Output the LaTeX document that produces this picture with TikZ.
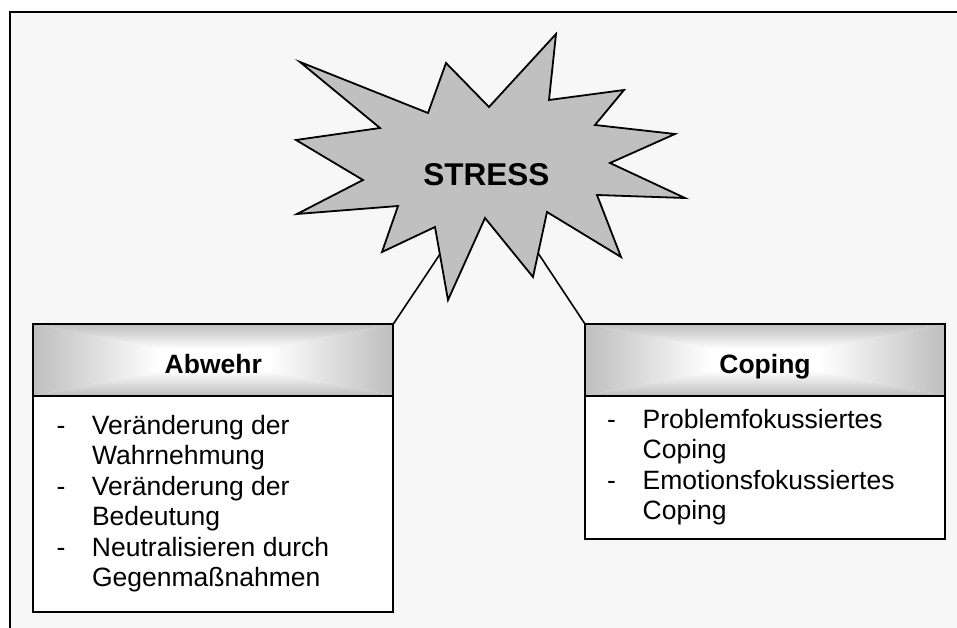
\documentclass[tikz,border=0pt]{standalone}
\usepackage{fontspec}
\setmainfont{Liberation Sans}
\usetikzlibrary{positioning}
\definecolor{bgcol}{HTML}{F7F7F7}
\definecolor{stargray}{HTML}{C0C0C0}
\definecolor{headgray}{HTML}{BEBEBE}
% rectangular glow for the headers, built from four triangles
\pgfdeclareverticalshading{glowup}{100bp}{color(0bp)=(white); color(40bp)=(white); color(75bp)=(headgray); color(100bp)=(headgray)}
\pgfdeclareverticalshading{glowdown}{100bp}{color(0bp)=(headgray); color(25bp)=(headgray); color(60bp)=(white); color(100bp)=(white)}
\pgfdeclarehorizontalshading{glowright}{100bp}{color(0bp)=(white); color(40bp)=(white); color(75bp)=(headgray); color(100bp)=(headgray)}
\pgfdeclarehorizontalshading{glowleft}{100bp}{color(0bp)=(headgray); color(25bp)=(headgray); color(60bp)=(white); color(100bp)=(white)}
\newcommand{\dashitem}{\makebox[35.5pt][l]{-}}
\newcommand{\contitem}{\hspace*{35.5pt}}
\begin{document}
\begin{tikzpicture}[x=1pt,y=-1pt,
  head/.style={rectangle,draw,line width=1.8,outer sep=0,inner sep=0,
    minimum width=360,minimum height=71.7,text height=28,text depth=0,
    font=\fontsize{26.5}{30.5}\selectfont\bfseries,
    path picture={
      \coordinate (gc) at (path picture bounding box.center);
      \coordinate (gnw) at (path picture bounding box.north west);
      \coordinate (gne) at (path picture bounding box.north east);
      \coordinate (gsw) at (path picture bounding box.south west);
      \coordinate (gse) at (path picture bounding box.south east);
      \shade[shading=glowup] (gc) -- (gnw) -- (gne) -- cycle;
      \shade[shading=glowdown] (gc) -- (gsw) -- (gse) -- cycle;
      \shade[shading=glowleft] (gc) -- (gnw) -- (gsw) -- cycle;
      \shade[shading=glowright] (gc) -- (gne) -- (gse) -- cycle;}},
  body/.style={rectangle,draw,line width=1.8,fill=white,outer sep=0,inner sep=0,minimum width=360},
  items/.style={align=left,inner sep=0,font=\fontsize{26.5}{30.5}\selectfont},
  link/.style={line width=1.6}]
\useasboundingbox (0,0) rectangle (957,628);

% Frame
\fill[bgcol] (10,12) rectangle (957,628);
\draw[line width=2] (10,628) -- (10,12) -- (957,12);

% Boxes
\node[head,anchor=north west] (abwehr) at (33.3,324) {Abwehr};
\node[body,minimum height=216,below=0pt of abwehr] (abwehrbody) {};
\node[items,anchor=west] (abwehrlist) at ([xshift=23]abwehrbody.west)
  {\dashitem Veränderung der\\\contitem Wahrnehmung\\\dashitem Veränderung der\\\contitem Bedeutung\\\dashitem Neutralisieren durch\\\contitem Gegenmaßnahmen};

\node[head,anchor=north west] (coping) at (585,324) {Coping};
\node[body,minimum height=143.3,below=0pt of coping] (copingbody) {};
\node[items,anchor=west] (copinglist) at ([xshift=22]copingbody.west)
  {\dashitem Problemfokussiertes\\\contitem Coping\\\dashitem Emotionsfokussiertes\\\contitem Coping};

% Links from the star
\coordinate (starL) at (445,246.7);
\coordinate (starR) at (532.7,245);
\draw[link] (starL) -- (abwehr.north east);
\draw[link] (starR) -- (coping.north west);

% Star
\draw[fill=stargray,line width=1.8,line join=miter]
  (300,62) -- (428,113) -- (446,63) -- (489,107) -- (556,34) -- (549,100)
  -- (624,90) -- (595,125) -- (675,134) -- (610,163) -- (685,198) -- (597,195)
  -- (621,257) -- (547,212) -- (533,277) -- (485,218) -- (448,300) -- (435,227)
  -- (382,252) -- (398,206) -- (297,214) -- (363,180) -- (296,140) -- (380,128) -- cycle;
\node[anchor=base,inner sep=0,font=\fontsize{31.5}{36}\selectfont\bfseries] (stress) at (486.3,185.7) {STRESS};
\end{tikzpicture}
\end{document}
